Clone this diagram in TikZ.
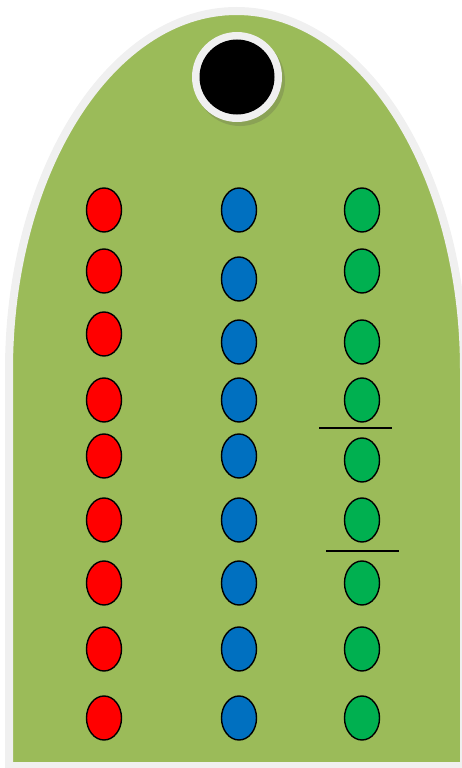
\documentclass[tikz,border=0pt]{standalone}
\usetikzlibrary{shapes.geometric}
\definecolor{boardgreen}{HTML}{9BBB59}
\definecolor{rimgray}{HTML}{F0F0F0}
\definecolor{holeshadow}{HTML}{869C55}
\definecolor{pegred}{HTML}{FF0000}
\definecolor{pegblue}{HTML}{0070C0}
\definecolor{peggreen}{HTML}{00B050}

\begin{document}
\begin{tikzpicture}[
    x=1pt, y=-1pt,
    peg/.style={ellipse,draw=black,line width=1.4pt,inner sep=0pt,
        minimum width=35pt,minimum height=44pt},
    redpeg/.style={peg,fill=pegred},
    bluepeg/.style={peg,fill=pegblue},
    greenpeg/.style={peg,fill=peggreen},
    divider/.style={draw=black,line width=1.4pt}
]
\useasboundingbox (0,0) rectangle (461,768);
% Board with rounded top
\path[fill=boardgreen, draw=rimgray, line width=8pt]
    (9,766) -- (9,370)
    arc[start angle=180, end angle=360, x radius=227.5, y radius=359]
    -- (464,766) -- cycle;
% Hole at the top
\fill[holeshadow, opacity=0.8] (240,81) circle[radius=45];
\fill[rimgray] (237,77) circle[radius=45];
\node[circle,fill=black,minimum size=75pt,inner sep=0pt] (hole) at (237,77) {};
% Red column
\node[redpeg] (r1) at (104,210) {};
\node[redpeg] (r2) at (104,271) {};
\node[redpeg] (r3) at (104,334) {};
\node[redpeg] (r4) at (104,400) {};
\node[redpeg] (r5) at (104,456) {};
\node[redpeg] (r6) at (104,520) {};
\node[redpeg] (r7) at (104,583) {};
\node[redpeg] (r8) at (104,649) {};
\node[redpeg] (r9) at (104,718) {};
% Blue column
\node[bluepeg] (b1) at (239,210) {};
\node[bluepeg] (b2) at (239,279) {};
\node[bluepeg] (b3) at (239,342) {};
\node[bluepeg] (b4) at (239,400) {};
\node[bluepeg] (b5) at (239,456) {};
\node[bluepeg] (b6) at (239,520) {};
\node[bluepeg] (b7) at (239,583) {};
\node[bluepeg] (b8) at (239,649) {};
\node[bluepeg] (b9) at (239,718) {};
% Green column
\node[greenpeg] (g1) at (362,210) {};
\node[greenpeg] (g2) at (362,271) {};
\node[greenpeg] (g3) at (362,342) {};
\node[greenpeg] (g4) at (362,400) {};
\node[greenpeg] (g5) at (362,460) {};
\node[greenpeg] (g6) at (362,520) {};
\node[greenpeg] (g7) at (362,583) {};
\node[greenpeg] (g8) at (362,649) {};
\node[greenpeg] (g9) at (362,718) {};
% Dividing lines in the green column
\draw[divider] (319,428) -- (392,428);
\draw[divider] (326,551) -- (399,551);
\end{tikzpicture}
\end{document}
